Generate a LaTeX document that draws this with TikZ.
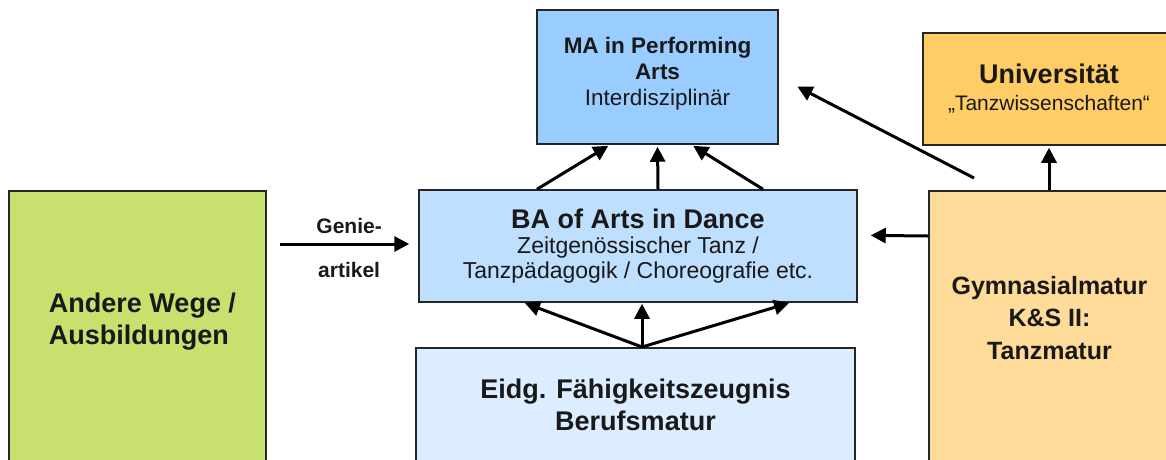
\documentclass[tikz,border=0pt]{standalone}
\usepackage{fontspec}
\setmainfont{Liberation Sans}
\usetikzlibrary{arrows.meta,calc,positioning}
\definecolor{maBlue}{RGB}{153,204,255}
\definecolor{baBlue}{RGB}{191,223,255}
\definecolor{eidgBlue}{RGB}{220,237,255}
\definecolor{andereGreen}{RGB}{199,224,110}
\definecolor{uniOrange}{RGB}{255,204,102}
\definecolor{gymOrange}{RGB}{255,219,153}
\newcommand\setfs[2]{\fontsize{#1}{#2}\selectfont}

\begin{document}
\begin{tikzpicture}[x=1pt,y=-1pt,
    box/.style={draw=black!85,line width=1.5pt,align=center,inner sep=0pt},
    flow/.style={line width=3pt,-{Triangle[length=15pt,width=15pt]}},
    every node/.style={text=black!90}]
    \useasboundingbox (0,0) rectangle (1166,459);
    \clip (0,0) rectangle (1166,459);

    \node[box,fill=maBlue,minimum width=241pt,minimum height=134pt,font=\setfs{22.5}{26}\bfseries,text depth=12pt] at (657.5,77) (ma) {MA in Performing\\Arts\\\mdseries Interdisziplinär};
    \node[box,fill=uniOrange,minimum width=252pt,minimum height=112pt,font=\setfs{21}{27}] at (1049,89) (uni) {{\setfs{27}{30}\bfseries Universität}\\„Tanzwissenschaften“};
    \node[box,fill=baBlue,minimum width=438pt,minimum height=112pt,font=\setfs{23}{25}] at (638,246) (ba) {{\setfs{27}{30}\bfseries BA of Arts in Dance}\\Zeitgenössischer Tanz /\\Tanzpädagogik / Choreografie etc.};
    \node[box,fill=andereGreen,minimum width=257pt,minimum height=290pt,anchor=north] at (137.5,190) (andere) {};
    \node[box,fill=eidgBlue,minimum width=439pt,minimum height=130pt,anchor=north] at (635.5,347) (eidg) {};
    \node[box,fill=gymOrange,minimum width=246pt,minimum height=290pt,anchor=north] at (1052,190) (gym) {};

    \node[align=left,font=\setfs{27}{32}\bfseries] at ($(andere.north)+(5,132)$) (andereText) {Andere Wege /\\Ausbildungen};
    \node[align=center,font=\setfs{27}{32}\bfseries] at ($(eidg.north)+(0,58)$) (eidgText) {Eidg. Fähigkeitszeugnis\\Berufsmatur};
    \node[align=center,font=\setfs{25}{32.5}\bfseries] at ($(gym.north)+(-2.5,128)$) (gymText) {Gymnasialmatur\\K\&S II:\\Tanzmatur};

    \coordinate (genieStart) at (280,244);
    \coordinate (diagStart) at (974,178);

    \draw[flow,shorten >=9pt] (genieStart) -- (genieStart -| ba.west)
        node[midway,above=5pt,font=\setfs{21}{24}\bfseries] (genie) {Genie-}
        node[midway,below=13pt,font=\setfs{21}{24}\bfseries] (artikel) {artikel};

    \foreach \from/\to in {-101/-47.5,20/0,125/34}
        \draw[flow,shorten >=2pt] ($(ba.north)+(\from,0)$) -- ($(ma.south)+(\to,0)$);
    \foreach \to in {-114,4,152}
        \draw[flow,shorten >=1pt] ($(eidg.north)+(6.5,0)$) -- ($(ba.south)+(\to,0)$);

    \path[flow]
        ($(gym.north west)+(0,46)$) edge[shorten >=13pt] ($(ba.north east)+(0,46)$)
        (uni.south |- gym.north) edge[shorten >=2pt] (uni.south)
        (diagStart) edge[shorten >=21pt] (ma.east);
\end{tikzpicture}
\end{document}
